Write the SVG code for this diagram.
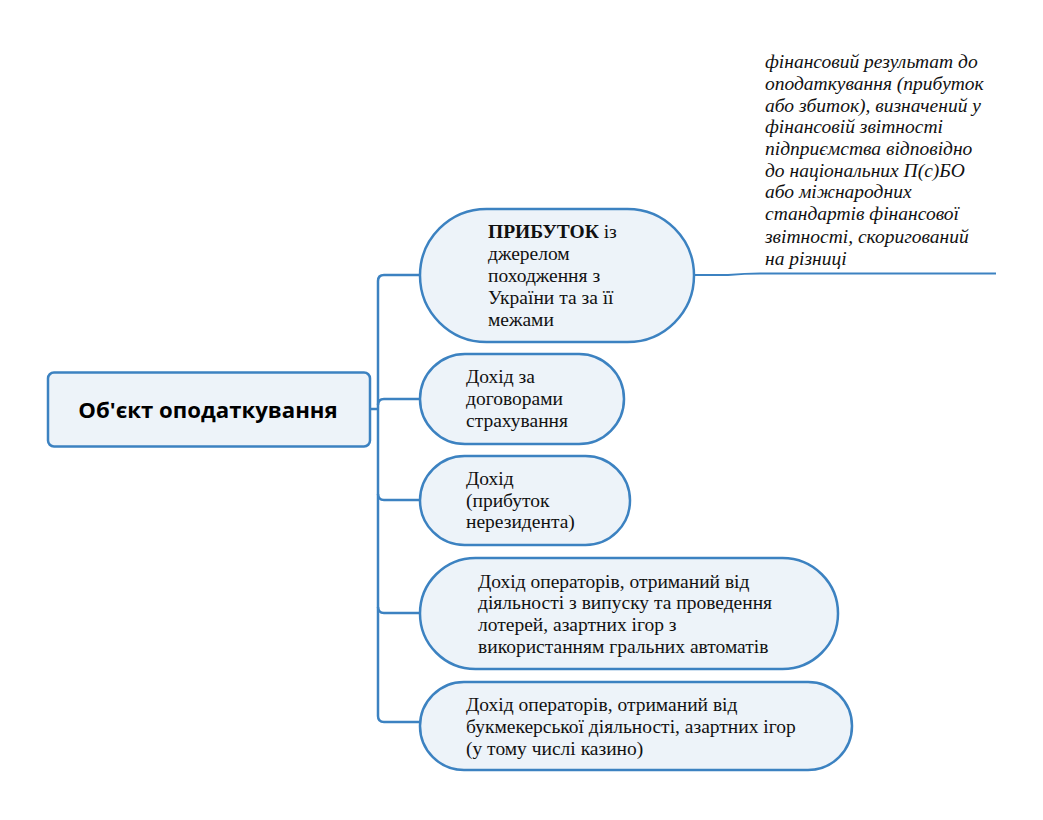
<svg xmlns="http://www.w3.org/2000/svg" width="1043" height="820" viewBox="0 0 1043 820">
<style>
.n{fill:#edf3f9;stroke:#3c82c1;stroke-width:2.5}
.c{fill:none;stroke:#3c82c1;stroke-width:2.5}
.t{font-family:"Liberation Serif","Times New Roman",serif;font-size:19.5px;fill:#111}
.i{font-family:"Liberation Serif","Times New Roman",serif;font-size:19.5px;font-style:italic;fill:#111}
.r{font-family:"Open Sans","DejaVu Sans",sans-serif;font-size:22.2px;font-weight:bold;fill:#000}
</style>
<rect width="1043" height="820" fill="#fff"/>
<g id="connectors">
<path class="c" d="M370,409 H378"/>
<path class="c" d="M420,275 H384 Q378,275 378,281 V716 Q378,722 384,722 H420"/>
<path class="c" d="M378,405 Q378,399 384,399 H420"/>
<path class="c" d="M378,494 Q378,500 384,500 H420"/>
<path class="c" d="M378,607 Q378,613 384,613 H420"/>
<path class="c" d="M694,275 H728 Q745,273.5 760,273.5 H996" style="stroke-width:2"/>
</g>
<g id="root">
<rect class="n" x="48" y="372.5" width="322" height="74" rx="6"/>
<text class="r" x="208" y="418" text-anchor="middle">Об'єкт оподаткування</text>
</g>
<g id="n1">
<rect class="n" x="420" y="209" width="274" height="133" rx="66.5"/>
<text class="t"><tspan x="488" y="238"><tspan font-weight="bold">ПРИБУТОК</tspan> із</tspan><tspan x="488" y="260">джерелом</tspan><tspan x="488" y="282">походження з</tspan><tspan x="488" y="304">України та за її</tspan><tspan x="488" y="326">межами</tspan></text>
</g>
<g id="n2">
<rect class="n" x="420" y="354" width="204" height="90" rx="45"/>
<text class="t"><tspan x="466" y="383">Дохід за</tspan><tspan x="466" y="405">договорами</tspan><tspan x="466" y="427">страхування</tspan></text>
</g>
<g id="n3">
<rect class="n" x="420" y="456" width="210" height="89" rx="44.5"/>
<text class="t"><tspan x="466" y="485">Дохід</tspan><tspan x="466" y="507">(прибуток</tspan><tspan x="466" y="528">нерезидента)</tspan></text>
</g>
<g id="n4">
<rect class="n" x="420" y="558" width="418" height="111" rx="55.5"/>
<text class="t"><tspan x="478" y="588">Дохід операторів, отриманий від</tspan><tspan x="478" y="609">діяльності з випуску та проведення</tspan><tspan x="478" y="631">лотерей, азартних ігор з</tspan><tspan x="478" y="653">використанням гральних автоматів</tspan></text>
</g>
<g id="n5">
<rect class="n" x="420" y="682" width="432" height="88" rx="44"/>
<text class="t"><tspan x="466" y="711">Дохід операторів, отриманий від</tspan><tspan x="466" y="733">букмекерської діяльності, азартних ігор</tspan><tspan x="466" y="755">(у тому числі казино)</tspan></text>
</g>
<g id="note">
<text class="i"><tspan x="765" y="68">фінансовий результат до</tspan><tspan x="765" y="90">оподаткування (прибуток</tspan><tspan x="765" y="112">або збиток), визначений у</tspan><tspan x="765" y="133">фінансовій звітності</tspan><tspan x="765" y="155">підприємства відповідно</tspan><tspan x="765" y="177">до національних П(с)БО</tspan><tspan x="765" y="198">або міжнародних</tspan><tspan x="765" y="220">стандартів фінансової</tspan><tspan x="765" y="243">звітності, скоригований</tspan><tspan x="765" y="265">на різниці</tspan></text>
</g>
</svg>
